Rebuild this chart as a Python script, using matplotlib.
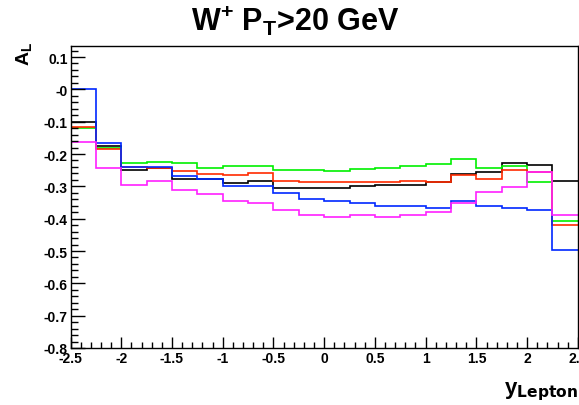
import numpy as np
import matplotlib
matplotlib.use('Agg')
import matplotlib.pyplot as plt
from matplotlib.ticker import FixedLocator, FixedFormatter, MultipleLocator

plt.rcParams['font.family'] = ['Liberation Sans', 'DejaVu Sans']
plt.rcParams['font.weight'] = 'bold'
plt.rcParams['mathtext.default'] = 'regular'

# Lepton rapidity bins (20 bins of 0.25)
edges = np.linspace(-2.5, 2.5, 21)

# A_L per bin for each curve
a_black = [-0.102, -0.176, -0.250, -0.242, -0.277, -0.276, -0.290, -0.285, -0.305, -0.305,
           -0.306, -0.300, -0.296, -0.295, -0.288, -0.261, -0.257, -0.229, -0.233, -0.283]
a_green = [-0.121, -0.180, -0.228, -0.224, -0.228, -0.243, -0.238, -0.238, -0.249, -0.249,
           -0.252, -0.247, -0.244, -0.238, -0.232, -0.216, -0.243, -0.236, -0.288, -0.407]
a_red = [-0.116, -0.183, -0.240, -0.244, -0.252, -0.262, -0.266, -0.260, -0.283, -0.288,
         -0.288, -0.288, -0.288, -0.284, -0.288, -0.266, -0.276, -0.250, -0.256, -0.419]
a_blue = [0.001, -0.166, -0.239, -0.239, -0.267, -0.277, -0.299, -0.300, -0.321, -0.339,
          -0.345, -0.352, -0.362, -0.362, -0.367, -0.345, -0.362, -0.367, -0.372, -0.497]
a_magenta = [-0.164, -0.243, -0.295, -0.285, -0.312, -0.324, -0.346, -0.352, -0.373, -0.389,
             -0.394, -0.389, -0.394, -0.389, -0.379, -0.350, -0.317, -0.301, -0.255, -0.390]

y_ticks = [0.1, 0.0, -0.1, -0.2, -0.3, -0.4, -0.5, -0.6, -0.7, -0.8]
y_ticklabels = ['0.1', '-0', '-0.1', '-0.2', '-0.3', '-0.4', '-0.5', '-0.6', '-0.7', '-0.8']
x_ticks = [-2.5, -2, -1.5, -1, -0.5, 0, 0.5, 1, 1.5, 2, 2.5]
x_ticklabels = ['-2.5', '-2', '-1.5', '-1', '-0.5', '0', '0.5', '1', '1.5', '2', '2.5']

fig = plt.figure(figsize=(5.79, 4.06), dpi=100)
ax = fig.add_axes([0.1218, 0.1404, 0.8762, 0.7438])

# histograms drawn one over the other
curves = [(a_black, '#000000'), (a_green, '#00f000'), (a_red, '#ff2a00'),
          (a_blue, '#0028ff'), (a_magenta, '#ff20ff')]
for vals, col in curves:
    ax.stairs(vals, edges, color=col, linewidth=1.2, baseline=None)

ax.set_xlim(-2.5, 2.5)
ax.set_ylim(-0.8, 0.134)

ax.yaxis.set_major_locator(FixedLocator(y_ticks))
ax.yaxis.set_major_formatter(FixedFormatter(y_ticklabels))
ax.yaxis.set_minor_locator(MultipleLocator(0.02))
ax.xaxis.set_major_locator(FixedLocator(x_ticks))
ax.xaxis.set_major_formatter(FixedFormatter(x_ticklabels))
ax.xaxis.set_minor_locator(MultipleLocator(0.1))

ax.tick_params(which='both', direction='in', top=False, right=False, width=1.0,
               labelsize=10, pad=2)
ax.tick_params(axis='y', which='major', length=10)
ax.tick_params(axis='y', which='minor', length=5)
ax.tick_params(axis='x', which='major', length=8)
ax.tick_params(axis='x', which='minor', length=4)
for sp in ax.spines.values():
    sp.set_linewidth(1.0)

fig.text(0.51, 1 - 31 / 406, r'W$^{+}$ P$_{T}$>20 GeV', ha='center', va='baseline',
         fontsize=22, fontweight='bold')
fig.text(0.042, 1 - 42 / 406, r'A$_{L}$', rotation=90, ha='center', va='top',
         fontsize=14, fontweight='bold')
fig.text(0.998, 1 - 403 / 406, r'y$_{\rm Lepton}$', ha='right', va='bottom',
         fontsize=16, fontweight='bold')

fig.savefig('out.png', dpi=100)
